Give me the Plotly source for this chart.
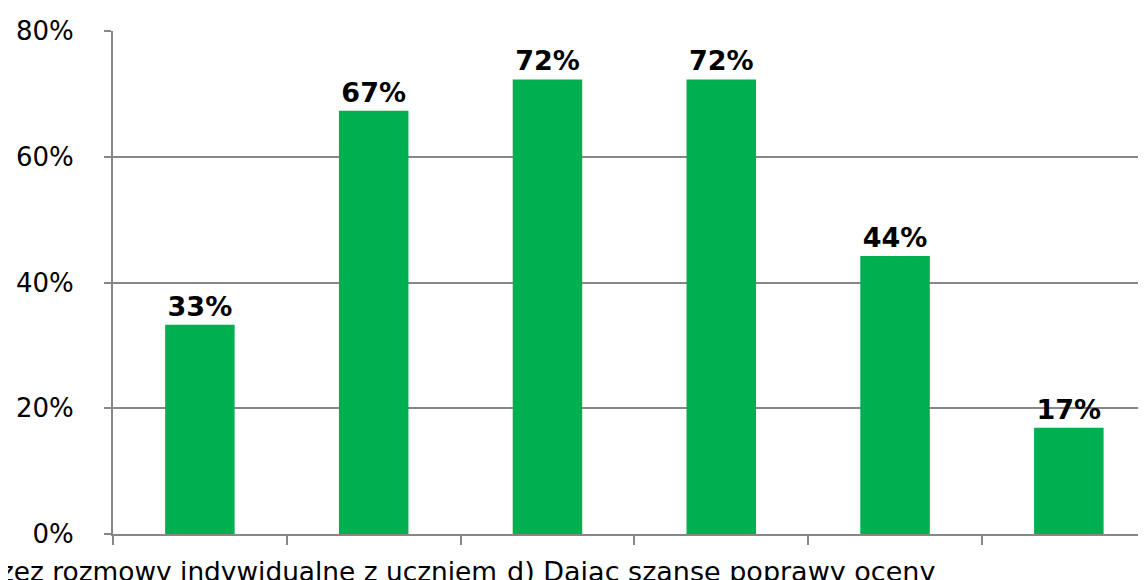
import plotly.graph_objects as go

categories = ["a)", "b)", "c)", "d)", "e)", "f)"]
values = [33.3, 67.3, 72.3, 72.3, 44.2, 16.9]
label_texts = ["33%", "67%", "72%", "72%", "44%", "17%"]
yticks = [0, 20, 40, 60, 80]
ytick_labels = ["0%", "20%", "40%", "60%", "80%"]
cat_label_fragment_c = "zez rozmowy indywidualne z uczniem"
cat_label_d = "d) Dając szansę poprawy oceny"

GREEN = "#00B050"
GREY = "#878787"
FONT = "DejaVu Sans"

fig = go.Figure()
fig.add_trace(go.Bar(
    x=categories,
    y=values,
    width=0.4,
    marker=dict(color=GREEN, line=dict(width=0)),
    text=label_texts,
    textposition="outside",
    texttemplate="<b>%{text}</b>",
    textfont=dict(family=FONT, size=27, color="black"),
    cliponaxis=False,
))

fig.update_layout(
    width=1146, height=580,
    margin=dict(l=102, r=8, t=17, b=54),
    paper_bgcolor="white", plot_bgcolor="white",
    showlegend=False,
    font=dict(family=FONT, size=26, color="black"),
    xaxis=dict(
        type="category",
        categoryorder="array", categoryarray=categories,
        range=[-0.5, 5.444],
        showticklabels=False,
        tickson="boundaries",
        ticks="outside", ticklen=9, tickwidth=2, tickcolor=GREY,
        showline=True, linecolor=GREY, linewidth=2,
        showgrid=False,
    ),
    yaxis=dict(
        range=[0, 80],
        tickvals=yticks, ticktext=ytick_labels,
        ticks="outside", ticklen=7, tickwidth=2, tickcolor=GREY,
        ticklabelstandoff=25,
        showline=True, linecolor=GREY, linewidth=2,
        showgrid=True, gridcolor=GREY, gridwidth=2,
        zeroline=False,
        tickfont=dict(family=FONT, size=26, color="black"),
    ),
)

fig.add_annotation(
    x=1.72, xref="x", xanchor="right",
    y=0, yref="paper", yanchor="top", yshift=-20,
    text=cat_label_fragment_c, showarrow=False,
    font=dict(family=FONT, size=26.4, color="black"),
)
fig.add_annotation(
    x=3, xref="x", xanchor="center",
    y=0, yref="paper", yanchor="top", yshift=-20,
    text=cat_label_d, showarrow=False,
    font=dict(family=FONT, size=27, color="black"),
)

fig.write_html("out.html")
